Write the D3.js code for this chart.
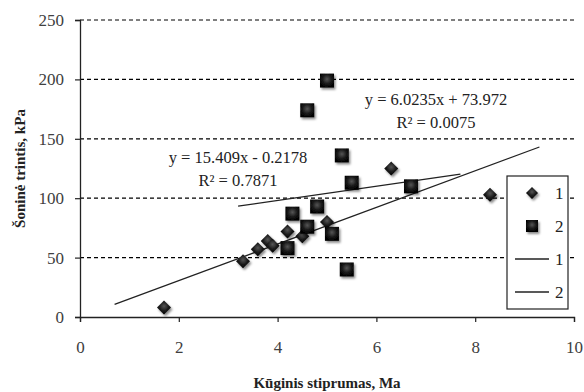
<!DOCTYPE html>
<html>
<head>
<meta charset="utf-8">
<script src="https://cdn.jsdelivr.net/npm/d3@7"></script>
<style>
    body { margin: 0; background: #fff; }
    text { font-family: "Liberation Serif", "DejaVu Serif", serif; }
</style>
</head>
<body>
<svg id="chart" width="584" height="392"></svg>
<script>
// data
const series1_x= [1.7, 3.3, 3.6, 3.8, 3.9, 4.2, 4.5, 5.0, 6.3, 8.3]
const series1_y= [8, 47, 57, 64, 60, 72, 68, 80, 125, 103]
const series2_x= [5.0, 4.6, 5.3, 5.5, 6.7, 4.3, 4.8, 4.6, 5.1, 4.2, 5.4]
const series2_y= [199, 174, 136, 113, 110, 87, 93, 76, 70, 58, 40]

// trendlines: [slope, intercept, x_from, x_to]
const trend1= [15.409, -0.2178, 0.7, 9.3]
const trend2= [6.0235, 73.972, 3.2, 7.7]
const trend_labels= [
    ["y = 15.409x - 0.2178", "R² = 0.7871"],
    ["y = 6.0235x + 73.972", "R² = 0.0075"],
]

const x_ticks= [0, 2, 4, 6, 8, 10]
const y_ticks= [0, 50, 100, 150, 200, 250]
const legend_labels= ["1", "2", "1", "2"]

// layout
const margin= {left: 80, right: 10, top: 20, bottom: 75}
const width= 584, height= 392

const svg= d3.select("#chart")

const x= d3.scaleLinear().domain([0, 10]).range([margin.left, 574])
const y= d3.scaleLinear().domain([0, 250]).range([317, margin.top])

// defs: marker shading + shadow
const defs= svg.append("defs")
let grad= defs.append("radialGradient").attr("id", "bevel")
    .attr("cx", "50%").attr("cy", "40%").attr("r", "60%")
grad.append("stop").attr("offset", "0%").attr("stop-color", "#555")
grad.append("stop").attr("offset", "55%").attr("stop-color", "#1a1a1a")
grad.append("stop").attr("offset", "100%").attr("stop-color", "#000")

let shadow= defs.append("filter").attr("id", "shadow")
    .attr("x", "-50%").attr("y", "-50%").attr("width", "200%").attr("height", "200%")
shadow.append("feDropShadow")
    .attr("dx", 1.5).attr("dy", 2).attr("stdDeviation", 1.3)
    .attr("flood-color", "#000").attr("flood-opacity", 0.45)

// gridlines (dashed)
svg.append("g")
    .selectAll("line")
    .data(y_ticks.filter(d => d > 0))
    .join("line")
    .attr("x1", x(0)).attr("x2", x(10))
    .attr("y1", d => y(d)).attr("y2", d => y(d))
    .attr("stroke", "#000").attr("stroke-width", 1.2)
    .attr("stroke-dasharray", "4,3")

// axes
let x_axis= svg.append("g")
    .attr("transform", `translate(0,${y(0)})`)
    .call(d3.axisBottom(x).tickValues(x_ticks).tickSize(5).tickPadding(19).tickFormat(d3.format("d")))
let y_axis= svg.append("g")
    .attr("transform", `translate(${x(0)},0)`)
    .call(d3.axisLeft(y).tickValues(y_ticks).tickSize(5).tickPadding(11).tickFormat(d3.format("d")))

for (let ax of [x_axis, y_axis]) {
    ax.select(".domain").attr("stroke", "#222").attr("stroke-width", 1.3)
    ax.selectAll(".tick line").attr("stroke", "#222").attr("stroke-width", 1.2)
    ax.selectAll(".tick text")
        .attr("font-family", "Liberation Serif, serif")
        .attr("font-size", 17)
        .attr("fill", "#404040")
}

// axis titles
svg.append("text")
    .attr("x", 327).attr("y", 388)
    .attr("text-anchor", "middle")
    .attr("font-size", 15).attr("font-weight", "bold")
    .attr("fill", "#222")
    .text("Kūginis stiprumas, Ma")
svg.append("text")
    .attr("transform", `translate(25,${(y(0) + y(250)) / 2}) rotate(-90)`)
    .attr("text-anchor", "middle")
    .attr("font-size", 15).attr("font-weight", "bold")
    .attr("fill", "#222")
    .text("Šoninė trintis, kPa")

// trendlines
let line= d3.line().x(d => x(d[0])).y(d => y(d[1]))
for (let t of [trend1, trend2]) {
    let [a, b, x0, x1]= t
    svg.append("path")
        .attr("d", line([[x0, a * x0 + b], [x1, a * x1 + b]]))
        .attr("fill", "none")
        .attr("stroke", "#222").attr("stroke-width", 1.3)
}

// markers
const diamond= s => `M0,${-s}L${s},0L0,${s}L${-s},0Z`
const square= s => `M${-s},${-s}H${s}V${s}H${-s}Z`

svg.append("g")
    .selectAll("path")
    .data(d3.zip(series1_x, series1_y))
    .join("path")
    .attr("d", diamond(7))
    .attr("transform", d => `translate(${x(d[0])},${y(d[1])})`)
    .attr("fill", "url(#bevel)")
    .attr("filter", "url(#shadow)")

svg.append("g")
    .selectAll("path")
    .data(d3.zip(series2_x, series2_y))
    .join("path")
    .attr("d", square(7))
    .attr("transform", d => `translate(${x(d[0])},${y(d[1])})`)
    .attr("fill", "url(#bevel)")
    .attr("filter", "url(#shadow)")

// trendline equations
let label_pos= [[238, 157], [436, 99]]
trend_labels.forEach((lines, i) => {
    let [cx, cy]= label_pos[i]
    lines.forEach((s, j) => {
        svg.append("text")
            .attr("x", cx).attr("y", cy + j * 23)
            .attr("dy", "0.35em")
            .attr("text-anchor", "middle")
            .attr("font-size", 16.5)
            .attr("fill", "#222")
            .text(s)
    })
})

// legend
let legend= svg.append("g")
legend.append("rect")
    .attr("x", 507).attr("y", 176).attr("width", 61).attr("height", 133)
    .attr("fill", "#fff").attr("stroke", "#222").attr("stroke-width", 1.2)

legend_labels.forEach((s, i) => {
    let cy= 193 + i * 33
    if (i == 0) {
        legend.append("path").attr("d", diamond(6))
            .attr("transform", `translate(532,${cy})`)
            .attr("fill", "url(#bevel)").attr("filter", "url(#shadow)")
    } else if (i == 1) {
        legend.append("path").attr("d", square(6))
            .attr("transform", `translate(532,${cy})`)
            .attr("fill", "url(#bevel)").attr("filter", "url(#shadow)")
    } else {
        legend.append("line")
            .attr("x1", 515).attr("x2", 549)
            .attr("y1", cy).attr("y2", cy)
            .attr("stroke", "#222").attr("stroke-width", 1.3)
    }
    legend.append("text")
        .attr("x", 555).attr("y", cy)
        .attr("dy", "0.35em")
        .attr("font-size", 17)
        .attr("fill", "#222")
        .text(s)
})
</script>
</body>
</html>
